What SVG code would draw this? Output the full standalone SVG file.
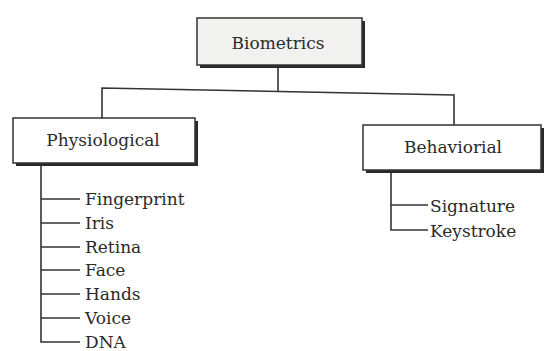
<svg xmlns="http://www.w3.org/2000/svg" width="544" height="351" viewBox="0 0 544 351">
  <style>
    .shadow { fill: #2a2a2a; }
    .box { fill: #ffffff; stroke: #333333; stroke-width: 1.5; }
    .box.root { fill: #f1f1ef; }
    .title { font-family: "DejaVu Serif", "Liberation Serif", serif; font-size: 17px; fill: #2a2a2a; text-anchor: middle; }
    .item { font-family: "DejaVu Serif", "Liberation Serif", serif; font-size: 17px; fill: #2a2a2a; }
    .conn { fill: none; stroke: #333333; stroke-width: 1.6; }
  </style>
  <rect width="544" height="351" fill="#ffffff"/>

  <g id="connectors">
    <line class="conn" x1="278" y1="65" x2="278" y2="91"/>
    <polyline class="conn" points="102,118 102,88 454,95 454,125"/>
    <polyline class="conn" points="41,163 41,342 80,342"/>
    <line class="conn" x1="41" y1="199" x2="80" y2="199"/>
    <line class="conn" x1="41" y1="223" x2="80" y2="223"/>
    <line class="conn" x1="41" y1="247" x2="80" y2="247"/>
    <line class="conn" x1="41" y1="270" x2="80" y2="270"/>
    <line class="conn" x1="41" y1="294" x2="80" y2="294"/>
    <line class="conn" x1="41" y1="318" x2="80" y2="318"/>
    <polyline class="conn" points="391,170 391,230 428,230"/>
    <line class="conn" x1="391" y1="205" x2="428" y2="205"/>
  </g>

  <g id="biometrics">
    <rect class="shadow" x="200" y="21" width="165" height="47"/>
    <rect class="box root" x="197" y="18" width="165" height="47"/>
    <text class="title" x="278" y="49">Biometrics</text>
  </g>

  <g id="physiological">
    <rect class="shadow" x="16" y="121" width="182" height="45"/>
    <rect class="box" x="13" y="118" width="182" height="45"/>
    <text class="title" x="103" y="146">Physiological</text>
  </g>

  <g id="behaviorial">
    <rect class="shadow" x="366" y="128" width="178" height="45"/>
    <rect class="box" x="363" y="125" width="178" height="45"/>
    <text class="title" x="453" y="153">Behaviorial</text>
  </g>

  <g id="physiological-items">
    <text class="item" x="85" y="205">Fingerprint</text>
    <text class="item" x="85" y="229">Iris</text>
    <text class="item" x="85" y="253">Retina</text>
    <text class="item" x="85" y="276">Face</text>
    <text class="item" x="85" y="300">Hands</text>
    <text class="item" x="85" y="324">Voice</text>
    <text class="item" x="85" y="348">DNA</text>
  </g>

  <g id="behaviorial-items">
    <text class="item" x="430" y="212">Signature</text>
    <text class="item" x="430" y="237">Keystroke</text>
  </g>
</svg>
